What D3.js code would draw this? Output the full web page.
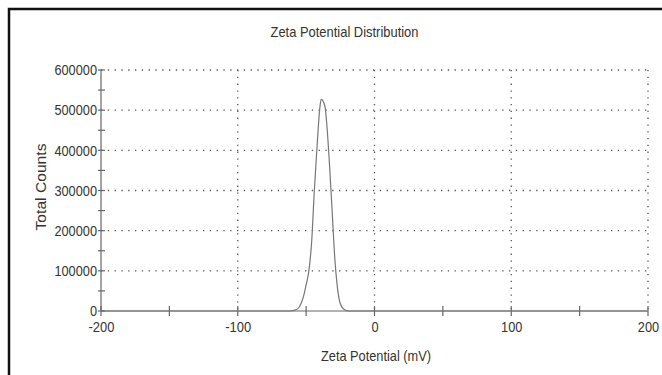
<!DOCTYPE html>
<html>
<head>
<meta charset="utf-8">
<script src="https://cdn.jsdelivr.net/npm/d3@7"></script>
<style>
  body { margin: 0; background: #fff; }
  svg { display: block; }
  text { font-family: "Liberation Sans", Arial, sans-serif; fill: #333; }
</style>
</head>
<body>
<svg id="chart" width="662" height="375"></svg>
<script>
// zeta potential (mV) vs total counts
let zeta   = [-200, -150, -100, -62, -58, -55, -52, -50, -48, -46, -44, -42, -40, -39, -37, -36, -35, -33, -31, -29, -27, -25, -22, -19, 0, 50, 100, 150, 200];
let counts = [0, 0, 0, 0, 2000, 10000, 35000, 65000, 100000, 170000, 300000, 410000, 505000, 527000, 518000, 505000, 470000, 370000, 250000, 130000, 55000, 18000, 3000, 0, 0, 0, 0, 0, 0];

let xTicks = [-200, -100, 0, 100, 200];
let xMinor = [-200, -150, -100, -50, 0, 50, 100, 150, 200];
let yTicks = [0, 100000, 200000, 300000, 400000, 500000, 600000];
let yMinor = [50000, 150000, 250000, 350000, 450000, 550000];

let svg = d3.select("#chart");

let mLeft = 101, mRight = 648, mTop = 70, mBottom = 311;

let x = d3.scaleLinear().domain([-200, 200]).range([mLeft, mRight]);
let y = d3.scaleLinear().domain([0, 600000]).range([mBottom, mTop]);

// the printout uses a narrow face, so squeeze text to its measured width
let narrow = function(sel){
    sel.each(function(){
        let s = this.textContent;
        let w = 0;
        for(let c of s) w += (c === "-" ? 4.6 : 7.1);
        d3.select(this).attr("textLength", w).attr("lengthAdjust", "spacingAndGlyphs");
    });
};

// outer frame
svg.append("rect")
    .attr("x", 9).attr("y", 9)
    .attr("width", 670).attr("height", 400)
    .style("fill", "none")
    .style("stroke", "#111")
    .style("stroke-width", 2.5);

// dotted grid
let grid = svg.append("g").attr("class", "grid");
grid.selectAll(".hgrid").data(yTicks.slice(1)).enter().append("line")
    .attr("class", "hgrid")
    .attr("x1", mLeft).attr("x2", mRight)
    .attr("y1", (d)=>{return y(d);}).attr("y2", (d)=>{return y(d);});
grid.selectAll(".vgrid").data(xTicks.slice(1)).enter().append("line")
    .attr("class", "vgrid")
    .attr("x1", (d)=>{return x(d);}).attr("x2", (d)=>{return x(d);})
    .attr("y1", mTop).attr("y2", mBottom);
grid.selectAll("line")
    .style("stroke", "#555")
    .style("stroke-width", 1.3)
    .style("stroke-dasharray", "1.3,5.5");

// axes
let xAxis = svg.append("g")
    .attr("transform", "translate(0," + mBottom + ")")
    .call(d3.axisBottom(x).tickValues(xTicks).tickSize(0).tickPadding(10).tickFormat((d)=>{return String(d);}));
xAxis.select(".domain").remove();
xAxis.selectAll("text").style("font-size", "15px").style("fill", "#333").call(narrow);

let yAxis = svg.append("g")
    .attr("transform", "translate(" + (mLeft - 4) + ",0)")
    .call(d3.axisLeft(y).tickValues(yTicks).tickSize(0).tickPadding(0).tickFormat((d)=>{return String(d);}));
yAxis.select(".domain").remove();
yAxis.selectAll("text").style("font-size", "15px").style("fill", "#333").call(narrow);

let axes = svg.append("g").attr("class", "axes");
axes.append("line").attr("x1", mLeft).attr("x2", mRight).attr("y1", mBottom).attr("y2", mBottom);
axes.append("line").attr("x1", mLeft).attr("x2", mLeft).attr("y1", mTop).attr("y2", mBottom);
axes.selectAll(".xt").data(xMinor).enter().append("line")
    .attr("x1", (d)=>{return x(d);}).attr("x2", (d)=>{return x(d);})
    .attr("y1", mBottom - 5).attr("y2", mBottom + 5);
axes.selectAll(".yt").data(yTicks.concat(yMinor)).enter().append("line")
    .attr("x1", mLeft - 3).attr("x2", mLeft + 4)
    .attr("y1", (d)=>{return y(d);}).attr("y2", (d)=>{return y(d);});
axes.selectAll("line")
    .style("stroke", "#666")
    .style("stroke-width", 1.2);

// distribution curve
let pts = zeta.map((v, i)=>{return [v, counts[i]];});
svg.append("path")
    .datum(pts)
    .attr("d", d3.line().x((d)=>{return x(d[0]);}).y((d)=>{return y(d[1]);}).curve(d3.curveMonotoneX))
    .style("fill", "none")
    .style("stroke", "#777")
    .style("stroke-width", 1.2);

// titles
svg.append("text")
    .attr("x", 344.5).attr("y", 37)
    .attr("text-anchor", "middle")
    .attr("textLength", 148).attr("lengthAdjust", "spacingAndGlyphs")
    .style("font-size", "15px")
    .text("Zeta Potential Distribution");

svg.append("text")
    .attr("x", 376).attr("y", 361)
    .attr("text-anchor", "middle")
    .attr("textLength", 110).attr("lengthAdjust", "spacingAndGlyphs")
    .style("font-size", "15px")
    .text("Zeta Potential (mV)");

svg.append("text")
    .attr("transform", "translate(46,187) rotate(-90)")
    .attr("text-anchor", "middle")
    .attr("textLength", 87).attr("lengthAdjust", "spacingAndGlyphs")
    .style("font-size", "15px")
    .text("Total Counts");
</script>
</body>
</html>
